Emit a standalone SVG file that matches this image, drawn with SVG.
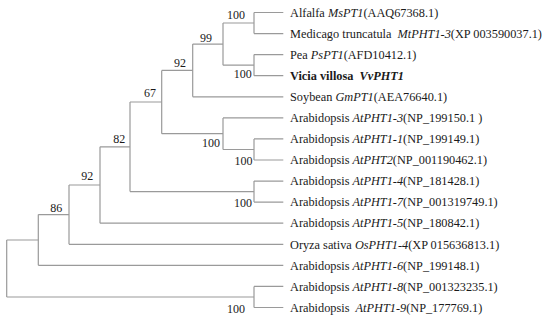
<svg xmlns="http://www.w3.org/2000/svg" width="550" height="324" viewBox="0 0 550 324">
<style>
.br{fill:none;stroke:#9a9a9a;stroke-width:1.2}
.t{font-family:"Liberation Serif","Times New Roman",serif;font-size:12.3px;fill:#1a1a1a}
.bs{font-family:"Liberation Serif","Times New Roman",serif;font-size:12px;fill:#1a1a1a;text-anchor:end}
.i{font-style:italic}
.b{font-weight:bold}
</style>
<rect width="550" height="324" fill="#fff"/>
<g id="connectors" class="br">
<path d="M254 12.5V33.6M254 12.5H283.3M254 33.6H283.3"/>
<path d="M254 54.6V75.7M254 54.6H283.3M254 75.7H283.3"/>
<path d="M223 23V65.2M223 23H254M223 65.2H254"/>
<path d="M192.7 44.1V96.8M192.7 44.1H223M192.7 96.8H283.3"/>
<path d="M254 138.9V160M254 138.9H283.3M254 160H283.3"/>
<path d="M223 117.9V149.5M223 117.9H283.3M223 149.5H254"/>
<path d="M161.7 70.4V133.7M161.7 70.4H192.7M161.7 133.7H223"/>
<path d="M254 181.1V202.1M254 181.1H283.3M254 202.1H283.3"/>
<path d="M130 102V191.6M130 102H161.7M130 191.6H254"/>
<path d="M100 146.8V223.2M100 146.8H130M100 223.2H283.3"/>
<path d="M69 185V244.3M69 185H100M69 244.3H283.3"/>
<path d="M38.3 214.6V265.3M38.3 214.6H69M38.3 265.3H283.3"/>
<path d="M254 286.4V307.5M254 286.4H283.3M254 307.5H283.3"/>
<path d="M6.7 240V297M6.7 240H38.3M6.7 297H254"/>
</g>
<g id="bootstrap">
<text class="bs" x="245" y="18.5">100</text>
<text class="bs" x="251.7" y="78.3">100</text>
<text class="bs" x="212" y="41.7">99</text>
<text class="bs" x="186" y="67.3">92</text>
<text class="bs" x="156" y="96.7">67</text>
<text class="bs" x="220" y="146.5">100</text>
<text class="bs" x="252.5" y="165">100</text>
<text class="bs" x="125.3" y="142.7">82</text>
<text class="bs" x="252" y="207">100</text>
<text class="bs" x="93.3" y="180">92</text>
<text class="bs" x="62.3" y="212.3">86</text>
<text class="bs" x="245" y="313.3">100</text>
</g>
<g id="leaf1"><text class="t" x="290" y="16.7">Alfalfa <tspan class="i">MsPT1</tspan>(AAQ67368.1)</text></g>
<g id="leaf2"><text class="t" x="290" y="37.8" xml:space="preserve">Medicago truncatula  <tspan class="i">MtPHT1-3</tspan>(XP 003590037.1)</text></g>
<g id="leaf3"><text class="t" x="290" y="58.8">Pea <tspan class="i">PsPT1</tspan>(AFD10412.1)</text></g>
<g id="leaf4"><text class="t b" x="290" y="79.9" xml:space="preserve">Vicia villosa  <tspan class="i">VvPHT1</tspan></text></g>
<g id="leaf5"><text class="t" x="290" y="101">Soybean <tspan class="i">GmPT1</tspan>(AEA76640.1)</text></g>
<g id="leaf6"><text class="t" x="290" y="122.1">Arabidopsis <tspan class="i">AtPHT1-3</tspan>(NP_199150.1 )</text></g>
<g id="leaf7"><text class="t" x="290" y="143.1">Arabidopsis <tspan class="i">AtPHT1-1</tspan>(NP_199149.1)</text></g>
<g id="leaf8"><text class="t" x="290" y="164.2">Arabidopsis <tspan class="i">AtPHT2</tspan>(NP_001190462.1)</text></g>
<g id="leaf9"><text class="t" x="290" y="185.3">Arabidopsis <tspan class="i">AtPHT1-4</tspan>(NP_181428.1)</text></g>
<g id="leaf10"><text class="t" x="290" y="206.3">Arabidopsis <tspan class="i">AtPHT1-7</tspan>(NP_001319749.1)</text></g>
<g id="leaf11"><text class="t" x="290" y="227.4">Arabidopsis <tspan class="i">AtPHT1-5</tspan>(NP_180842.1)</text></g>
<g id="leaf12"><text class="t" x="290" y="248.5">Oryza sativa <tspan class="i">OsPHT1-4</tspan>(XP 015636813.1)</text></g>
<g id="leaf13"><text class="t" x="290" y="269.5">Arabidopsis <tspan class="i">AtPHT1-6</tspan>(NP_199148.1)</text></g>
<g id="leaf14"><text class="t" x="290" y="290.6">Arabidopsis <tspan class="i">AtPHT1-8</tspan>(NP_001323235.1)</text></g>
<g id="leaf15"><text class="t" x="290" y="311.7" xml:space="preserve">Arabidopsis  <tspan class="i">AtPHT1-9</tspan>(NP_177769.1)</text></g>
</svg>
